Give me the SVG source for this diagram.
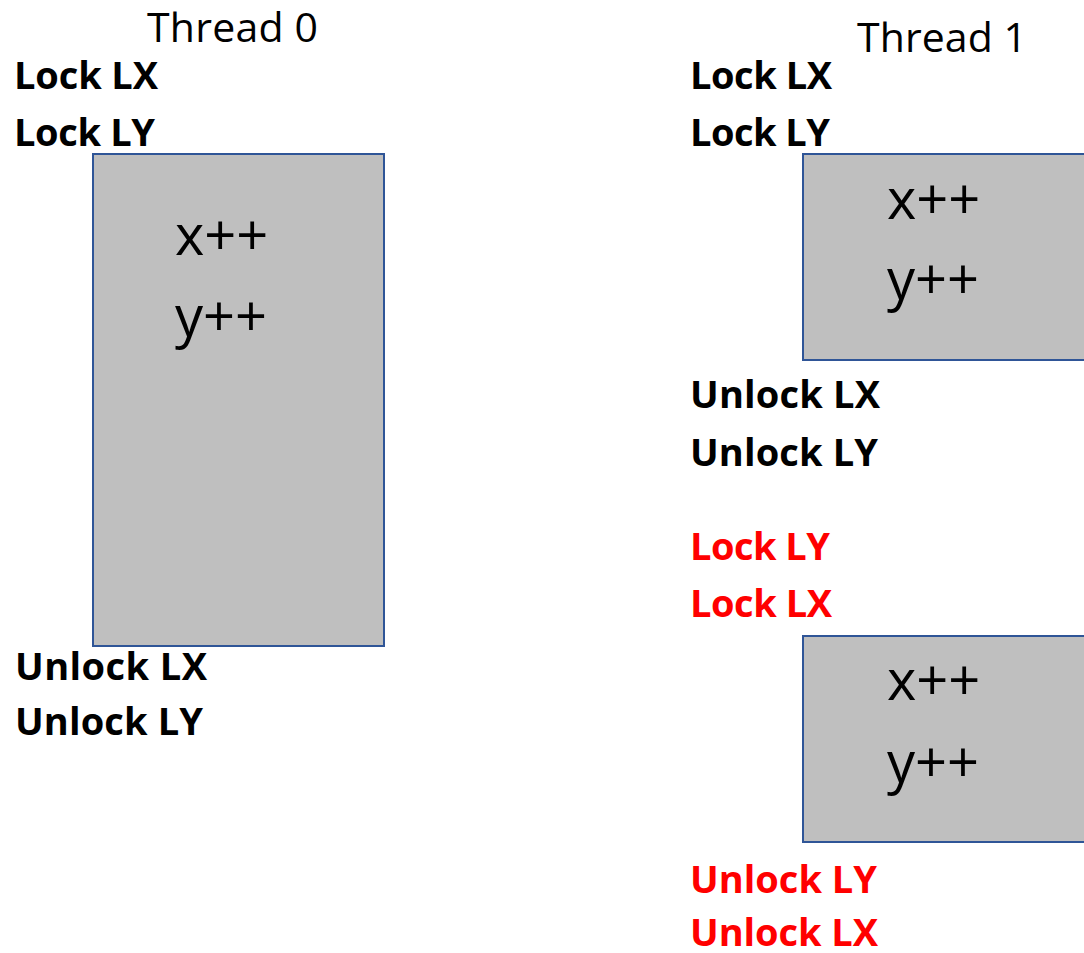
<svg xmlns="http://www.w3.org/2000/svg" width="1084" height="953" viewBox="0 0 1084 953">
<style>
.title{font-family:"Open Sans","Liberation Sans",sans-serif;font-size:41px;fill:#000}
.op{font-family:"Open Sans","Liberation Sans",sans-serif;font-size:38px;font-weight:bold;fill:#000}
.red{fill:#FF0000}
.code{font-family:"Open Sans","Liberation Sans",sans-serif;font-size:56px;fill:#000}
.box{fill:#BFBFBF;stroke:#2F5597;stroke-width:2}
</style>
<rect width="1084" height="953" fill="#fff"/>
<g id="thread0">
<text class="title" x="147" y="42" textLength="171">Thread 0</text>
<text class="op" x="14" y="89" textLength="144">Lock LX</text>
<text class="op" x="14" y="146" textLength="141">Lock LY</text>
<g id="cs0">
<rect class="box" x="93" y="154" width="291" height="492"/>
<text class="code" x="175" y="255">x++</text>
<text class="code" x="175" y="336">y++</text>
</g>
<text class="op" x="15" y="680" textLength="192">Unlock LX</text>
<text class="op" x="15" y="735" textLength="188">Unlock LY</text>
</g>
<g id="thread1">
<text class="title" x="857" y="52" textLength="170">Thread 1</text>
<text class="op" x="690" y="89" textLength="142">Lock LX</text>
<text class="op" x="690" y="146" textLength="140">Lock LY</text>
<g id="cs1">
<rect class="box" x="803" y="154" width="290" height="206"/>
<text class="code" x="887" y="219">x++</text>
<text class="code" x="887" y="299">y++</text>
</g>
<text class="op" x="690" y="408" textLength="190">Unlock LX</text>
<text class="op" x="690" y="466" textLength="188">Unlock LY</text>
<text class="op red" x="690" y="560" textLength="140">Lock LY</text>
<text class="op red" x="690" y="617" textLength="142">Lock LX</text>
<g id="cs2">
<rect class="box" x="803" y="636" width="290" height="206"/>
<text class="code" x="887" y="700">x++</text>
<text class="code" x="887" y="782">y++</text>
</g>
<text class="op red" x="690" y="893" textLength="187">Unlock LY</text>
<text class="op red" x="690" y="946" textLength="188">Unlock LX</text>
</g>
<g id="connectors"></g>
</svg>
